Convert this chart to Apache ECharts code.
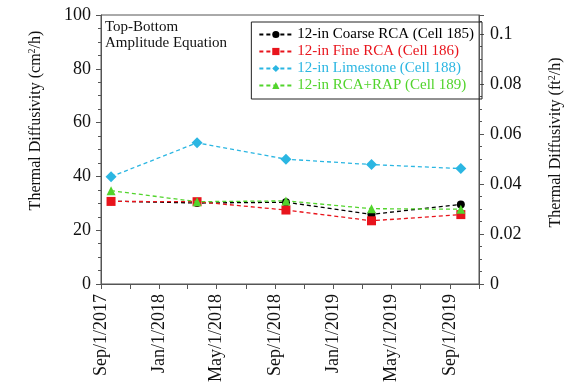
<!DOCTYPE html>
<html>
<head>
<meta charset="utf-8">
<script src="https://cdn.jsdelivr.net/npm/echarts@6/dist/echarts.min.js"></script>
<style>
  html, body { margin: 0; padding: 0; background: #fff; }
  #chart { width: 572px; height: 385px; }
</style>
</head>
<body>
<div id="chart"></div>
<script>
// survey dates and thermal diffusivity (cm2/h)
const dates = ['2017-09-22', '2018-03-21', '2018-09-23', '2019-03-21', '2019-09-24']
const coarseRCA = [30.8, 30.1, 30.4, 25.9, 29.6]
const fineRCA = [30.7, 30.6, 27.5, 23.5, 25.8]
const limestone = [39.9, 52.5, 46.4, 44.4, 42.9]
const rcaRap = [34.7, 30.6, 30.9, 28.0, 27.8]

const seriesNames = [
  '12-in Coarse RCA (Cell 185)',
  '12-in Fine RCA (Cell 186)',
  '12-in Limestone (Cell 188)',
  '12-in RCA+RAP (Cell 189)'
]
const seriesColors = ['#000000', '#e8141c', '#2bb6e2', '#52d42c']
const seriesSymbols = ['circle', 'rect', 'diamond', 'triangle']
const symbolSizes = [8, 9, 11, 9]

// x axis: labelled every 4 months, small ticks every 2 months
const labelDates = ['2017-09-01', '2018-01-01', '2018-05-01', '2018-09-01', '2019-01-01', '2019-05-01', '2019-09-01']
const tickDates = ['2017-09-01', '2017-11-01', '2018-01-01', '2018-03-01', '2018-05-01', '2018-07-01',
  '2018-09-01', '2018-11-01', '2019-01-01', '2019-03-01', '2019-05-01', '2019-07-01', '2019-09-01', '2019-11-01']
const xMin = '2017-09-01'
const xMax = '2019-11-01'

const DAY = 86400000
const toUTC = s => {
  const p = s.split('-').map(Number)
  return Date.UTC(p[0], p[1] - 1, p[2])
}
// days since the first tick, so the x axis can be a plain value axis
const toDay = s => Math.round((toUTC(s) - toUTC(xMin)) / DAY)
const monthNames = ['Jan', 'Feb', 'Mar', 'Apr', 'May', 'Jun', 'Jul', 'Aug', 'Sep', 'Oct', 'Nov', 'Dec']

const font = 'Liberation Serif'
const axisColor = '#555'
const textColor = '#111'
const cmToFt = 0.001076

const chart = echarts.init(document.getElementById('chart'))

const values = [coarseRCA, fineRCA, limestone, rcaRap]
const series = values.map((vals, i) => ({
  name: seriesNames[i],
  type: 'line',
  yAxisIndex: 0,
  data: vals.map((v, k) => [toDay(dates[k]), v]),
  symbol: seriesSymbols[i],
  symbolSize: symbolSizes[i],
  itemStyle: { color: seriesColors[i] },
  lineStyle: { color: seriesColors[i], width: 1.3, type: [4, 3] },
  z: 2 + i
}))

const supStyle = { fontSize: 10, verticalAlign: 'top', padding: [0, 0, 8, 0], fontFamily: font, color: textColor }

chart.setOption({
  animation: false,
  textStyle: { fontFamily: font },
  grid: {
    left: 101,
    right: 88,
    top: 15,
    bottom: 101,
    show: true,
    borderColor: axisColor,
    borderWidth: 1
  },
  title: {
    text: 'Top-Bottom\nAmplitude Equation',
    left: 100,
    top: 14,
    textStyle: { fontFamily: font, fontSize: 15, fontWeight: 'normal', color: textColor, lineHeight: 16 }
  },
  legend: {
    orient: 'vertical',
    right: 90,
    top: 22,
    itemGap: 2,
    itemWidth: 33,
    itemHeight: 9,
    padding: [5, 8, 6, 7],
    borderColor: '#222',
    borderWidth: 1,
    data: seriesNames.map((n, i) => ({
      name: n,
      textStyle: { color: seriesColors[i] }
    })),
    textStyle: { fontFamily: font, fontSize: 15 }
  },
  xAxis: {
    type: 'value',
    min: toDay(xMin),
    max: toDay(xMax),
    splitLine: { show: false },
    axisLine: { lineStyle: { color: axisColor } },
    axisTick: {
      show: true,
      length: 5,
      customValues: tickDates.map(toDay),
      lineStyle: { color: axisColor }
    },
    axisLabel: {
      customValues: labelDates.map(toDay),
      rotate: 90,
      fontSize: 18,
      color: textColor,
      margin: 10,
      formatter: v => {
        const d = new Date(toUTC(xMin) + v * DAY)
        return monthNames[d.getUTCMonth()] + '/' + d.getUTCDate() + '/' + d.getUTCFullYear()
      }
    }
  },
  yAxis: [
    {
      type: 'value',
      min: 0,
      max: 100,
      interval: 20,
      name: 'Thermal Diffusivity (cm{sup|2}/h)',
      nameLocation: 'middle',
      nameRotate: 90,
      nameGap: 56,
      nameTextStyle: { fontFamily: font, fontSize: 16, color: textColor, padding: [0, 0, 0, 58], rich: { sup: supStyle } },
      splitLine: { show: false },
      axisLine: { show: true, lineStyle: { color: axisColor } },
      axisTick: { show: true, length: 5, lineStyle: { color: axisColor } },
      minorTick: { show: true, splitNumber: 4, length: 3, lineStyle: { color: axisColor } },
      axisLabel: { fontSize: 18, color: textColor, margin: 10 }
    },
    {
      type: 'value',
      position: 'right',
      min: 0,
      max: 100 * cmToFt,
      interval: 0.02,
      name: 'Thermal Diffusivity (ft{sup|2}/h)',
      nameLocation: 'middle',
      nameRotate: 90,
      nameGap: 68,
      nameTextStyle: { fontFamily: font, fontSize: 16, color: textColor, padding: [0, 0, 0, 14], rich: { sup: supStyle } },
      splitLine: { show: false },
      axisLine: { show: true, lineStyle: { color: axisColor } },
      axisTick: { show: true, length: 5, lineStyle: { color: axisColor } },
      minorTick: { show: true, splitNumber: 4, length: 3, lineStyle: { color: axisColor } },
      axisLabel: {
        fontSize: 18,
        color: textColor,
        margin: 11,
        showMaxLabel: false,
        formatter: v => String(+v.toFixed(2))
      }
    }
  ],
  series: series
})
</script>
</body>
</html>
